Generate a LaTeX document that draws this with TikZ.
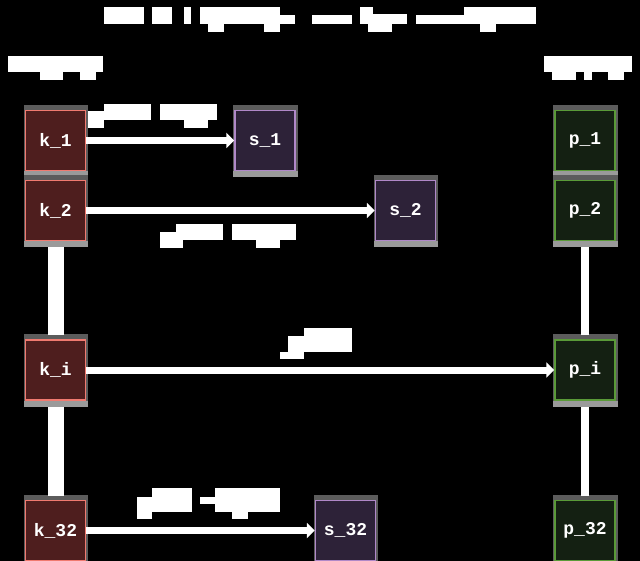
\documentclass[tikz,border=0pt]{standalone}
\usepackage{fontspec}
\newfontfamily\codefont{Liberation Mono}
\usetikzlibrary{arrows.meta,backgrounds,calc}

\definecolor{keyfill}{HTML}{4E1E1E}
\definecolor{keyline}{HTML}{F07A70}
\definecolor{sfill}{HTML}{2D2238}
\definecolor{sline}{HTML}{B088C8}
\definecolor{pfill}{HTML}{142012}
\definecolor{pline}{HTML}{5A9A38}
\definecolor{framegray}{HTML}{5C5C5C}
\definecolor{framelight}{HTML}{9A9A9A}

\tikzset{
  box/.style={minimum size=60pt, inner sep=0pt, line width=1.5pt, text=white,
    font=\codefont\bfseries\fontsize{18}{20}\selectfont},
  keybox/.style={box, fill=keyfill, draw=keyline},
  sbox/.style={box, fill=sfill, draw=sline},
  pbox/.style={box, fill=pfill, draw=pline},
  link/.style={white, line width=7pt, -{Triangle[length=8pt,width=15pt]}},
  vlink/.style={white, line width=#1, shorten <=6pt, shorten >=4pt},
  blob/.style={fill=white},
}

\begin{document}
\begin{tikzpicture}[x=1pt,y=-1pt]

\useasboundingbox (0,0) rectangle (640,561);

% key column
\node[keybox] (k1)  at (55.5,140.5) {k\_1};
\node[keybox] (k2)  at (55.5,210.5) {k\_2};
\node[keybox] (kI)  at (55.5,370)   {k\_i};
\node[keybox] (k32) at (55.5,530.5) {k\_32};

% middle boxes
\node[sbox] (s1)  at (265,140.5)   {s\_1};
\node[sbox] (s2)  at (405.5,210.5) {s\_2};
\node[sbox] (s32) at (345.5,530.5) {s\_32};

% right column
\node[pbox] (p1)  at (585,140.5) {p\_1};
\node[pbox] (p2)  at (585,210.5) {p\_2};
\node[pbox] (pI)  at (585,370)   {p\_i};
\node[pbox] (p32) at (585,530.5) {p\_32};

\begin{scope}[on background layer]
\fill[black] (0,0) rectangle (640,561);
\foreach \n in {k1,k2,kI,k32,s1,s2,s32,p1,p2,pI,p32}
{
    \fill[framegray]  ($(\n.north west)+(-1,-5)$) rectangle ($(\n.south east)+(2,6)$);
    \fill[framelight] ($(\n.south west)+(-1,0)$) rectangle ($(\n.south east)+(2,6)$);
}
\end{scope}

% connectors
\draw[link] (k1) -- (s1);
\draw[link] (k2) -- (s2);
\draw[link] (kI) -- (pI);
\draw[link] (k32) -- (s32);

\draw[vlink=16pt] (k2) -- (kI);
\draw[vlink=16pt] (kI) -- (k32);
\draw[vlink=8pt] (p2) -- (pI);
\draw[vlink=8pt] (pI) -- (p32);

% masked texts
\foreach \xa/\ya/\xb/\yb in {
    104/7/144/24, 152/7/172/24, 184/7/191/24, 200/7/280/24, 280/15/295/24,
    208/24/224/32, 264/24/280/32, 312/15/352/24, 360/7/373/24, 373/14/407/24,
    368/24/392/32, 416/15/464/24, 464/7/536/24, 480/24/496/32,
    8/56/103/72, 40/72/63/80, 80/72/96/80,
    544/56/632/72, 552/72/576/80, 584/72/592/80, 608/72/624/80,
    104/104/151/120, 88/111/104/128, 160/104/217/120, 184/120/208/128,
    176/224/223/240, 160/232/183/248, 232/224/296/240, 256/240/280/248,
    304/328/352/352, 288/336/304/352, 280/352/304/359,
    152/488/192/512, 137/497/152/519, 200/497/215/504, 215/488/280/512, 232/512/248/519}
{
    \fill[blob] (\xa,\ya) rectangle (\xb,\yb);
}

\end{tikzpicture}
\end{document}
